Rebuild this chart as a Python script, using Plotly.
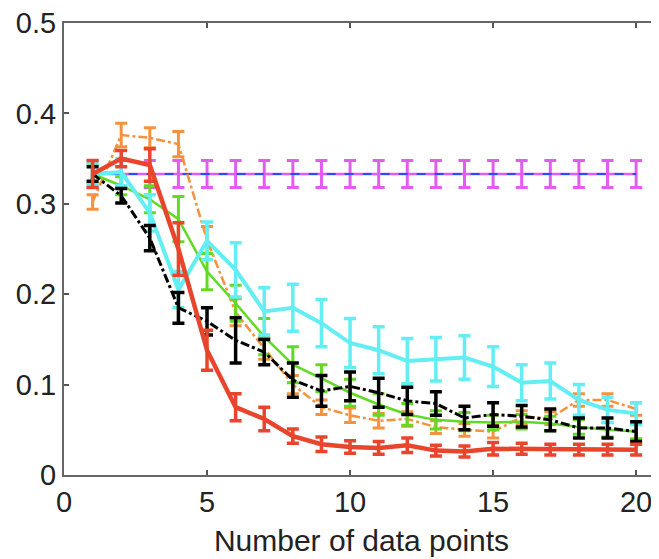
import plotly.graph_objects as go

x = list(range(1, 21))

uniform_mean = [0.333] * 20
uniform_err = [0.015] * 20
blue_mean = [0.333] * 20

orange_mean = [0.302, 0.376, 0.373, 0.366, 0.26, 0.18, 0.14, 0.10, 0.075, 0.066,
               0.060, 0.062, 0.053, 0.050, 0.048, 0.064, 0.063, 0.083, 0.083, 0.073]
orange_err = [0.008, 0.013, 0.011, 0.014, 0.015, 0.015, 0.012, 0.01, 0.008, 0.008,
              0.008, 0.008, 0.007, 0.007, 0.007, 0.007, 0.007, 0.007, 0.007, 0.007]

green_mean = [0.333, 0.32, 0.305, 0.283, 0.225, 0.19, 0.153, 0.122, 0.107, 0.091,
              0.078, 0.067, 0.061, 0.059, 0.058, 0.059, 0.057, 0.053, 0.050, 0.048]
green_err = [0.01, 0.01, 0.015, 0.025, 0.02, 0.02, 0.02, 0.02, 0.015, 0.015,
             0.012, 0.012, 0.01, 0.01, 0.008, 0.008, 0.008, 0.008, 0.008, 0.008]

cyan_mean = [0.333, 0.335, 0.29, 0.205, 0.259, 0.227, 0.181, 0.185, 0.168, 0.146,
             0.138, 0.126, 0.128, 0.130, 0.120, 0.102, 0.104, 0.083, 0.072, 0.068]
cyan_err = [0.012, 0.015, 0.02, 0.02, 0.021, 0.03, 0.026, 0.026, 0.026, 0.027,
            0.026, 0.025, 0.024, 0.024, 0.022, 0.02, 0.02, 0.017, 0.014, 0.012]

black_mean = [0.333, 0.309, 0.262, 0.185, 0.17, 0.149, 0.136, 0.105, 0.093, 0.098,
              0.091, 0.082, 0.079, 0.063, 0.067, 0.065, 0.061, 0.052, 0.052, 0.048]
black_err = [0.008, 0.008, 0.014, 0.017, 0.015, 0.025, 0.014, 0.019, 0.017, 0.016,
             0.016, 0.015, 0.013, 0.013, 0.013, 0.012, 0.012, 0.011, 0.011, 0.011]

red_mean = [0.333, 0.350, 0.343, 0.250, 0.138, 0.075, 0.062, 0.043, 0.034, 0.031,
            0.030, 0.033, 0.027, 0.026, 0.029, 0.029, 0.028, 0.028, 0.028, 0.028]
red_err = [0.015, 0.009, 0.018, 0.029, 0.022, 0.015, 0.013, 0.008, 0.008, 0.007,
           0.007, 0.008, 0.006, 0.006, 0.007, 0.006, 0.006, 0.006, 0.006, 0.006]

fig = go.Figure()

def add(mean, err, color, width, dash, ethick=3):
    kw = {}
    if err is not None:
        kw["error_y"] = dict(type="data", array=err, color=color, thickness=ethick, width=6)
    fig.add_trace(go.Scatter(x=x, y=mean, mode="lines",
                             line=dict(color=color, width=width, dash=dash),
                             showlegend=False, **kw))

add(uniform_mean, uniform_err, "#E35BF0", 2.5, "solid")
add(blue_mean, None, "#1F4FFF", 2, "dash")
add(orange_mean, orange_err, "#F5923E", 2.5, "dashdot")
add(green_mean, green_err, "#62DA22", 2.5, "solid")
add(cyan_mean, cyan_err, "#62EEF2", 4, "solid", 3.5)
add(black_mean, black_err, "#000000", 3, "dashdot", 3.5)
add(red_mean, red_err, "#E8452C", 4.5, "solid", 3.5)

FONT = "Liberation Sans, Arial, sans-serif"
axis_font = dict(family=FONT, size=29, color="#222")

# the page body has an 8px margin, so the figure starts at (8, 8)
fig.update_layout(
    width=659, height=559,
    margin=dict(l=56, r=8, t=15, b=92),
    paper_bgcolor="white", plot_bgcolor="white",
    font=axis_font,
    xaxis=dict(range=[0, 20.8], tickvals=[0, 5, 10, 15, 20],
               ticks="inside", ticklen=5, tickcolor="#555", tickwidth=1.5,
               showline=True, linecolor="#666", linewidth=2, mirror="ticks",
               showgrid=False, zeroline=False, tickfont=axis_font,
               automargin=False, ticklabelstandoff=0, ticklabeloverflow="allow",
               title=dict(text="Number of data points",
                          font=dict(family=FONT, size=30, color="#222"), standoff=13)),
    yaxis=dict(range=[0, 0.5], tickvals=[0, 0.1, 0.2, 0.3, 0.4, 0.5],
               ticktext=["0", "0.1", "0.2", "0.3", "0.4", "0.5"],
               ticks="inside", ticklen=5, tickcolor="#555", tickwidth=1.5,
               showline=True, linecolor="#666", linewidth=2, mirror="ticks",
               showgrid=False, zeroline=False, tickfont=axis_font,
               automargin=False, ticklabelstandoff=0, ticklabeloverflow="allow"),
)

fig.write_html("out.html")
